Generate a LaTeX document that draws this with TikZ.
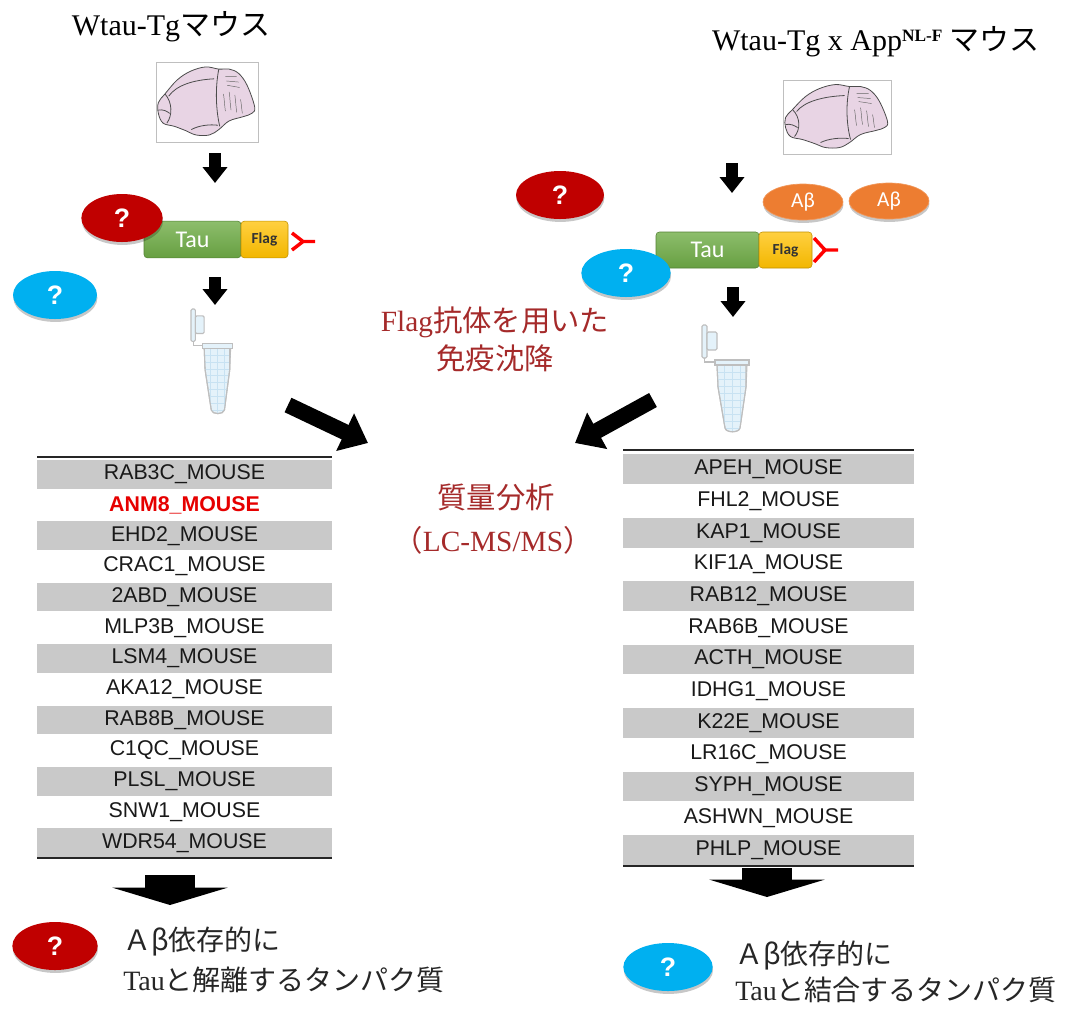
\documentclass[tikz,border=0pt]{standalone}
\usepackage{fontspec}
\setmainfont{Liberation Serif}
\newfontfamily\jpfont{Noto Sans CJK JP}
\newfontfamily\listfont{Liberation Sans}
\newfontfamily\calfont{Carlito}
\usetikzlibrary{arrows.meta,shapes.geometric,shadows}

\newcommand\fsz[1]{\fontsize{#1}{#1}\selectfont}

\definecolor{qred}{RGB}{192,0,0}
\definecolor{qblue}{RGB}{0,176,240}
\definecolor{abeta}{RGB}{237,125,49}
\definecolor{taugreen}{RGB}{112,173,71}
\definecolor{flagyellow}{RGB}{255,192,0}
\definecolor{rowgray}{RGB}{201,201,201}
\definecolor{labelred}{RGB}{165,42,42}
\definecolor{brainpink}{RGB}{232,212,228}
\definecolor{tubeblue}{RGB}{228,242,250}
\definecolor{tubeedge}{RGB}{190,190,190}
\definecolor{tubegrid}{RGB}{200,226,242}
\definecolor{hitred}{RGB}{230,0,0}

\tikzset{
  softshadow/.style={drop shadow={shadow xshift=0.3pt, shadow yshift=-2.2pt, opacity=0.22, fill=black}},
  qmark/.style={ellipse, minimum width=63pt, minimum height=36pt, inner sep=0pt,
    text=white, font={\listfont\bfseries\fsz{20pt}}, softshadow},
  redq/.style={qmark, fill=qred},
  blueq/.style={qmark, fill=qblue},
  abnode/.style={ellipse, minimum width=60pt, minimum height=27pt, inner sep=0pt,
    fill=abeta, draw=abeta!80!white, line width=0.5pt, text=white, font={\calfont\fsz{16pt}}, softshadow},
  taubox/.style={rectangle, rounded corners=2.5pt, minimum height=27.5pt, inner sep=0pt,
    draw=taugreen!75!black, top color=taugreen!80!white, bottom color=taugreen!92!black,
    text=white, font={\calfont\fsz{18pt}}},
  flagbox/.style={rectangle, rounded corners=2.5pt, minimum height=27.5pt, inner sep=0pt,
    draw=flagyellow!75!black, top color=flagyellow!75!white, bottom color=flagyellow!95!black,
    text=black!80, font={\calfont\bfseries\fsz{11.5pt}}},
  brainbox/.style={rectangle, draw=black!25, line width=0.7pt, inner sep=0pt},
  antibody/.style={draw=red, line width=2.6pt},
  listrow/.style={rectangle, inner sep=0pt, font={\listfont\fsz{16pt}}},
  tablerule/.style={draw=black!85, line width=1.9pt},
  smallarrow/.style={line width=8.5pt, -{Triangle[width=18pt,length=12pt]}},
  diagarrow/.style={line width=12pt, -{Triangle[width=30pt,length=19pt]}},
  bigdown/.style={line width=37.5pt, -{Triangle[width=86pt,length=13pt]}},
  titletext/.style={anchor=base, inner sep=0pt, font=\fsz{22.5pt}},
  centerlabel/.style={inner sep=0pt, text=labelred, font=\fsz{22pt}},
  bottomlabel/.style={anchor=west, inner sep=0pt, text=black!85, font=\fsz{21pt}},
  tubepart/.style={draw=tubeedge, fill=tubeblue, line width=0.8pt},
  brainline/.style={draw=black!70, line width=0.6pt},
  brainfine/.style={draw=black!60, line width=0.35pt},
  % mouse brain, side view, in a 108 x 74 frame
  brain/.pic={
    \filldraw[brainline, fill=brainpink] plot[smooth cycle, tension=0.6] coordinates {
      (3,38) (10,30) (23,17) (37,9) (53,5) (67,7) (78,7) (88,11) (97,22) (105,42)
      (102,48) (93,51) (78,55) (67,63) (57,68) (43,68) (32,64) (20,60) (8,57) (3,48)};
    \draw[brainline] (67,7) .. controls (63,25) and (64,45) .. (68,60);
    \draw[brainline] (14,32) .. controls (22,22) and (40,17) .. (62,16);
    \draw[brainline] (10,30) .. controls (18,38) and (18,50) .. (12,57);
    \draw[brainline] (3,45) .. controls (8,44) and (12,46) .. (15,48);
    \draw[brainline] (38,63) .. controls (46,59) and (58,58) .. (66,59);
    \draw[brainfine] (74,14) -- (86,14) (75,18) -- (88,19) (76,22) -- (89,24);
    \draw[brainfine] (72,30) .. controls (73,36) and (73,40) .. (74,46)
                     (78,28) .. controls (79,34) and (79,40) .. (80,45)
                     (84,31) .. controls (85,37) and (85,41) .. (86,47)
                     (90,35) .. controls (91,39) and (91,43) .. (92,48);
  },
  % microcentrifuge tube with hinged lid
  tube/.pic={
    \filldraw[tubepart, rounded corners=1pt] (0,0) rectangle (5,33);
    \filldraw[tubepart, rounded corners=1pt] (5,7) rectangle (15,25);
    \draw[tubeedge, line width=0.8pt] (2.5,33) -- (2.5,37) -- (13,37);
    \filldraw[tubepart] (15,40) -- (45,40) -- (44,62) -- (38,103)
      .. controls (37,108) and (24,108) .. (23,103) -- (16,62) -- cycle;
    \begin{scope}
      \clip (15,40) -- (45,40) -- (44,62) -- (38,103)
        .. controls (37,108) and (24,108) .. (23,103) -- (16,62) -- cycle;
      \foreach \gy in {47,54,...,103} \draw[tubegrid, line width=0.4pt] (10,\gy) -- (50,\gy);
      \foreach \gx in {22,30,38} \draw[tubegrid, line width=0.4pt] (\gx,40) -- (\gx,108);
    \end{scope}
    \draw[tubeedge, line width=0.8pt] (15,40) -- (44,40) -- (44,62) -- (38,103)
      .. controls (37,108) and (24,108) .. (23,103) -- (16,62) -- cycle;
    \filldraw[tubepart] (13,35) rectangle (47,40);
  }
}

\begin{document}
\begin{tikzpicture}[x=0.75pt, y=-0.75pt]
\fill[white] (0,0) rectangle (1073,1008);
\useasboundingbox (0,0) rectangle (1073,1008);

% ---------- titles ----------
\node[titletext] (ltitle) at (171,35) {Wtau-Tg{\jpfont マウス}};
\node[titletext] (rtitle) at (876,50) {Wtau-Tg x App\raisebox{0.62ex}{\fsz{13pt}\bfseries NL-F} {\jpfont マウス}};

% ---------- brains ----------
\node[brainbox, minimum width=76.5pt, minimum height=60pt] (lbox) at (207,102) {};
\path (lbox.north west) pic[xscale=0.944, yscale=1.08] {brain};
\node[brainbox, minimum width=81pt, minimum height=55.5pt] (rbox) at (837,117) {};
\path (rbox.north west) pic {brain};

% ---------- Tau-Flag constructs ----------
\node[taubox, minimum width=72.75pt] (ltau) at (192.5,239.5) {Tau};
\node[flagbox, minimum width=35.25pt] (lflag) at (264.5,239.5) {Flag};
\node[taubox, minimum width=77.25pt, minimum height=27pt] (rtau) at (707.5,250) {Tau};
\node[flagbox, minimum width=39.75pt, minimum height=27pt] (rflag) at (785.5,250) {Flag};

% anti-Flag antibodies
\coordinate (lab1) at (292,233);
\coordinate (lab2) at (292,250);
\coordinate (labj) at (303,241.5);
\coordinate (labe) at (315,241.5);
\draw[antibody] (lab1) -- (labj) -- (lab2) (labj) -- (labe);
\coordinate (rab1) at (814,238);
\coordinate (rab2) at (814,262);
\coordinate (rabj) at (825,250);
\coordinate (rabe) at (838,250);
\draw[antibody] (rab1) -- (rabj) -- (rab2) (rabj) -- (rabe);

% ---------- unknown partners and A-beta ----------
\node[redq, minimum width=61pt] (lq1) at (122,218) {?};
\node[blueq] (lq2) at (55,295) {?};
\node[redq, minimum width=66pt] (rq1) at (560,195) {?};
\node[blueq, minimum width=67pt] (rq2) at (626,273) {?};
\node[abnode] (ab1) at (803,202) {Aβ};
\node[abnode] (ab2) at (889,201) {Aβ};

% ---------- tubes ----------
\path (191,309) pic[xscale=0.88, yscale=0.98] {tube};
\path (702,325) pic {tube};

% ---------- arrows ----------
\coordinate (la1s) at (215,153);
\coordinate (la1e) at (215,183);
\coordinate (la2s) at (215,277);
\coordinate (la2e) at (215,305);
\coordinate (ra1s) at (732,163);
\coordinate (ra1e) at (732,193);
\coordinate (ra2s) at (733,287);
\coordinate (ra2e) at (733,317);
\draw[smallarrow] (la1s) -- (la1e);
\draw[smallarrow] (la2s) -- (la2e);
\draw[smallarrow] (ra1s) -- (ra1e);
\draw[smallarrow] (ra2s) -- (ra2e);

\coordinate (ld1) at (288,405);
\coordinate (ld2) at (368,443);
\coordinate (rd1) at (653,400);
\coordinate (rd2) at (575,443);
\draw[diagarrow] (ld1) -- (ld2);
\draw[diagarrow] (rd1) -- (rd2);

% ---------- centre labels ----------
\node[centerlabel] (ip1) at (495,322) {Flag{\jpfont 抗体を用いた}};
\node[centerlabel] (ip2) at (495,358) {\jpfont 免疫沈降};
\node[centerlabel] (ms1) at (496,497) {\jpfont 質量分析};
\node[centerlabel] (ms2) at (493,540) {{\jpfont （}LC-MS/MS{\jpfont ）}};

% ---------- protein lists ----------
\foreach \pname [count=\i] in {RAB3C,ANM8,EHD2,CRAC1,2ABD,MLP3B,LSM4,AKA12,RAB8B,C1QC,PLSL,SNW1,WDR54}{
  \ifodd\i \def\rowfill{rowgray}\else\def\rowfill{white}\fi
  \ifnum\i=2 \def\rowtext{hitred}\def\rowweight{\bfseries}\else\def\rowtext{black!90}\def\rowweight{}\fi
  \node[listrow, fill=\rowfill, text=\rowtext, minimum width=221.25pt, minimum height=21.5pt]
    (l\i) at (184.5,{459+(\i-0.5)*30.7}) {\rowweight \pname\_MOUSE};
}
\foreach \pname [count=\i] in {APEH,FHL2,KAP1,KIF1A,RAB12,RAB6B,ACTH,IDHG1,K22E,LR16C,SYPH,ASHWN,PHLP}{
  \ifodd\i \def\rowfill{rowgray}\else\def\rowfill{white}\fi
  \node[listrow, fill=\rowfill, text=black!90, minimum width=218.25pt, minimum height=22.3pt]
    (r\i) at (768.5,{453.5+(\i-0.5)*31.7}) {\pname\_MOUSE};
}
\draw[tablerule] (37,457) -- (332,457);
\draw[tablerule] (37,858) -- (332,858);
\draw[tablerule] (623,450) -- (914,450);
\draw[tablerule] (623,866) -- (914,866);

% ---------- outcome arrows ----------
\coordinate (lb1) at (170,875);
\coordinate (lb2) at (170,905);
\coordinate (rb1) at (767,868);
\coordinate (rb2) at (767,897);
\draw[bigdown] (lb1) -- (lb2);
\draw[bigdown] (rb1) -- (rb2);

% ---------- conclusions ----------
\node[redq, minimum width=64pt] (lq3) at (55,946) {?};
\node[blueq, minimum width=67pt] (rq3) at (668,967) {?};
\node[bottomlabel] (lc1) at (123,941) {\jpfont Ａβ依存的に};
\node[bottomlabel] (lc2) at (123,980) {Tau{\jpfont と解離するタンパク質}};
\node[bottomlabel] (rc1) at (735,955) {\jpfont Ａβ依存的に};
\node[bottomlabel] (rc2) at (735,990) {Tau{\jpfont と結合するタンパク質}};
\end{tikzpicture}
\end{document}
